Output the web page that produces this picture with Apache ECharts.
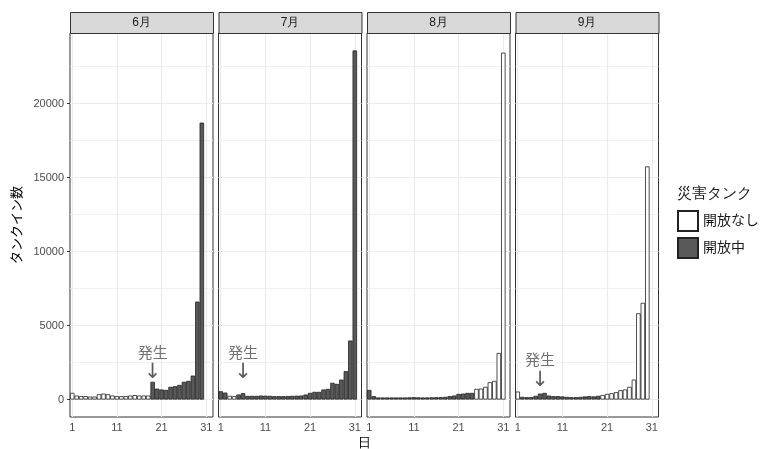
<!DOCTYPE html>
<html>
<head>
<meta charset="utf-8">
<script src="https://cdn.jsdelivr.net/npm/echarts@6/dist/echarts.min.js"></script>
<style>
html, body { margin: 0; padding: 0; background: #fff; }
#chart { width: 767px; height: 449px; }
</style>
</head>
<body>
<div id="chart"></div>
<script>
// facet labels
const months = ['6月', '7月', '8月', '9月'];
const xTicks = [1, 11, 21, 31];
const yTicks = [0, 5000, 10000, 15000, 20000];
const yGridLines = [0, 2500, 5000, 7500, 10000, 12500, 15000, 17500, 20000, 22500];

// タンクイン数 per day
const jun = [450, 270, 230, 230, 200, 200, 360, 400, 360, 270, 230, 230, 230, 270, 300, 270, 270, 270,
    1200, 740, 680, 650, 860, 900, 990, 1200, 1260, 1620, 6620, 18720];
const jul = [560, 470, 250, 230, 340, 430, 250, 250, 250, 270, 260, 250, 230, 230, 230, 240, 250, 260, 270, 340,
    450, 520, 520, 680, 720, 1130, 1060, 1350, 1920, 3990, 23600];
const aug = [650, 230, 140, 140, 140, 140, 140, 140, 140, 150, 160, 150, 140, 140, 150, 160, 160, 180, 230, 270,
    380, 400, 450, 450, 720, 740, 860, 1170, 1260, 3150, 23450];
const sep = [540, 180, 160, 160, 250, 400, 450, 270, 230, 230, 210, 180, 160, 160, 180, 210, 230, 210, 250,
    310, 380, 430, 500, 630, 680, 860, 1350, 5830, 6540, 15760];

// 災害タンク 1 = 開放中, 0 = 開放なし
const junOpen = [0,0,0,0,0,0,0,0,0,0,0,0,0,0,0,0,0,0, 1,1,1,1,1,1,1,1,1,1,1,1];
const julOpen = [1,1,0,0,1,1,1,1,1,1,1,1,1,1,1,1,1,1,1,1,1,1,1,1,1,1,1,1,1,1,1];
const augOpen = [1,1,1,1,1,1,1,1,1,1,1,1,1,1,1,1,1,1,1,1,1,1,1,1, 0,0,0,0,0,0,0];
const sepOpen = [0, 1,1,1,1,1,1,1,1,1,1,1,1,1,1,1,1,1,1, 0,0,0,0,0,0,0,0,0,0,0];

// 発生 annotations (panel index, day, y value)
const annoPanel = [0, 1, 3];
const annoDay = [19, 6, 6];
const annoValue = [2400, 2400, 1920];

const values = [jun, jul, aug, sep];
const opens = [junOpen, julOpen, augOpen, sepOpen];

const chart = echarts.init(document.getElementById('chart'));

const panelLeft = 70, panelStep = 148.5, panelWidth = 143;
const panelTop = 33, panelHeight = 384;

let grids = [], xAxes = [], yAxes = [], series = [], graphics = [];

for (let i = 0; i < months.length; i++) {
    const left = panelLeft + i * panelStep;
    grids.push({
        left: left, top: panelTop, width: panelWidth, height: panelHeight,
        show: true, backgroundColor: '#fff', borderColor: '#333', borderWidth: 1
    });
    xAxes.push({
        type: 'value', gridIndex: i, min: 0.5, max: 32.5,
        axisLine: { show: false },
        axisTick: { show: true, customValues: xTicks, length: 3, lineStyle: { color: '#333' } },
        axisLabel: { customValues: xTicks, color: '#4d4d4d', fontSize: 11, margin: 5 },
        splitLine: { show: false }
    });
    yAxes.push({
        type: 'value', gridIndex: i, min: -1180, max: 24780,
        axisLine: { show: false },
        axisTick: { show: i === 0, customValues: yTicks, length: 3, lineStyle: { color: '#333' } },
        axisLabel: {
            show: i === 0, customValues: yTicks, color: '#4d4d4d', fontSize: 11, margin: 6,
            formatter: v => String(v)
        },
        splitLine: { show: false },
        name: i === 0 ? 'タンクイン数' : '',
        nameLocation: 'middle', nameGap: 46,
        nameTextStyle: { color: '#000', fontSize: 13 }
    });

    // grid lines behind the bars
    let lines = [];
    yGridLines.forEach(v => {
        lines.push({ yAxis: v, lineStyle: { color: '#ebebeb', width: v % 5000 === 0 ? 1.2 : 0.7, type: 'solid' } });
    });
    xTicks.forEach(v => {
        lines.push({ xAxis: v, lineStyle: { color: '#ebebeb', width: 1.2, type: 'solid' } });
    });
    series.push({
        name: 'grid' + i, type: 'line', xAxisIndex: i, yAxisIndex: i, data: [],
        silent: true, z: 1,
        markLine: { silent: true, symbol: ['none', 'none'], label: { show: false }, z: 1, data: lines }
    });

    let closedData = [], openData = [];
    for (let d = 0; d < values[i].length; d++) {
        const v = values[i][d];
        closedData.push([d + 1, opens[i][d] ? null : v]);
        openData.push([d + 1, opens[i][d] ? v : null]);
    }
    series.push({
        name: '開放なし', type: 'bar', xAxisIndex: i, yAxisIndex: i, stack: 'p' + i,
        barWidth: '100%', z: 3,
        itemStyle: { color: '#fff', borderColor: '#222', borderWidth: 0.8 },
        data: closedData
    });
    series.push({
        name: '開放中', type: 'bar', xAxisIndex: i, yAxisIndex: i, stack: 'p' + i,
        barWidth: '100%', z: 3,
        itemStyle: { color: '#595959', borderColor: '#222', borderWidth: 0.8 },
        data: openData
    });

    // facet strip
    graphics.push({
        type: 'rect', left: left, top: 12, z: 10,
        shape: { width: panelWidth, height: 21 },
        style: { fill: '#d9d9d9', stroke: '#333', lineWidth: 1 }
    });
    graphics.push({
        type: 'text', x: left + panelWidth / 2, y: 22.5, z: 11,
        style: { text: months[i], fill: '#1a1a1a', fontSize: 12, align: 'center', verticalAlign: 'middle' }
    });
}

// 発生 labels with arrow
for (let k = 0; k < annoPanel.length; k++) {
    const p = annoPanel[k];
    series.push({
        name: 'anno' + k, type: 'scatter', xAxisIndex: p, yAxisIndex: p,
        symbol: 'circle', symbolSize: 1, itemStyle: { color: 'transparent' }, silent: true, z: 5,
        label: {
            show: true, position: 'inside', formatter: '{t|発生}\n{a|↓}',
            color: '#4d4d4d',
            rich: {
                t: { fontSize: 15, lineHeight: 18, color: '#4d4d4d' },
                a: { fontSize: 21, lineHeight: 20, color: '#333', fontFamily: 'DejaVu Sans' }
            }
        },
        data: [[annoDay[k], annoValue[k]]]
    });
}

// x axis title and legend title
graphics.push({
    type: 'text', x: 364, y: 437,
    style: { text: '日', fill: '#000', fontSize: 13, align: 'center', verticalAlign: 'top' }
});
graphics.push({
    type: 'text', left: 677, top: 186,
    style: { text: '災害タンク', fill: '#1a1a1a', fontSize: 15 }
});

const option = {
    animation: false,
    textStyle: { fontFamily: "'Liberation Sans', 'Noto Sans CJK JP', sans-serif" },
    grid: grids,
    xAxis: xAxes,
    yAxis: yAxes,
    legend: {
        data: ['開放なし', '開放中'],
        orient: 'vertical', left: 677, top: 210, padding: 0,
        itemWidth: 20, itemHeight: 20, itemGap: 5,
        icon: 'rect',
        textStyle: { color: '#1a1a1a', fontSize: 14 },
        selectedMode: false
    },
    graphic: graphics,
    series: series
};
chart.setOption(option);
</script>
</body>
</html>
